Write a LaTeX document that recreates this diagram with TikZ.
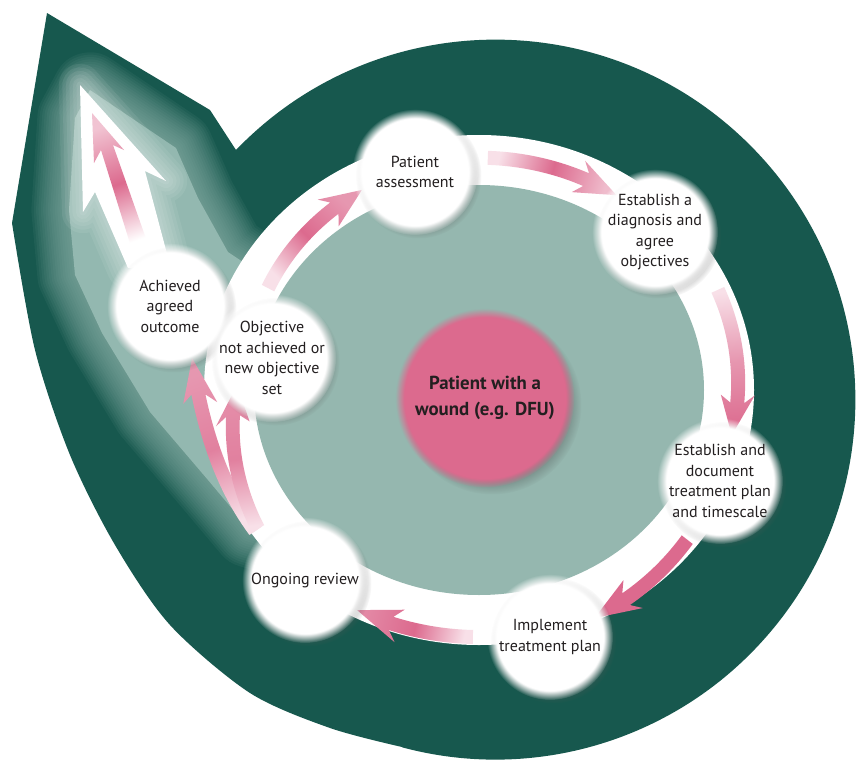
\documentclass[tikz,border=0pt]{standalone}
\usepackage{fontspec}
\setmainfont{PT Sans}
\usetikzlibrary{shadows,fadings}
\definecolor{dkgreen}{HTML}{17584E}
\definecolor{tealc}{HTML}{95B7AF}
\definecolor{glowc}{HTML}{93B8B0}
\definecolor{pinkc}{HTML}{DC6A8E}
\definecolor{palepink}{HTML}{F8E0E8}
\definecolor{txt}{HTML}{231F20}
\tikzset{
  declare function={RAK(\t)=\RAk+(\RAl-\RAk)*pow(max((\t-(\RAa))/((\RAz)-(\RAa)),0.0001),\RAe);},
  stepnode/.style={circle, minimum size=107pt, inner sep=0pt, align=center, text=txt,
    font=\fontsize{13.6}{17.4}\selectfont,
    general shadow={fill=black!65, opacity=.45, shadow xshift=3pt, shadow yshift=-3pt,
      path fading=circle with fuzzy edge 20 percent},
    preaction={fill=white, path fading=circle with fuzzy edge 15 percent}},
  coredisc/.style={circle, minimum size=152pt, inner sep=0pt, align=center, text=txt,
    font=\fontsize{16}{21.5}\selectfont\bfseries,
    general shadow={fill=black!75, opacity=.45, shadow xshift=6pt, shadow yshift=-6pt,
      path fading=circle with fuzzy edge 20 percent},
    preaction={fill=pinkc, path fading=circle with fuzzy edge 10 percent}},
  glowline/.style={line join=round}
}
\newcommand\ringarrow[6]{%
  \def\RAa{#1}\def\RAz{#2}\def\RAk{#3}\def\RAl{#4}\def\RAe{#5}%
  \pgfmathsetmacro\RAs{sign((#2)-(#1))}%
  \pgfmathsetmacro\RAn{(#2)-\RAs*7.9}%
  \pgfmathsetmacro\RAb{(#2)-\RAs*9.8}%
  \pgfmathsetmacro\RAkb{RAK(\RAb)}%
  \pgfmathsetmacro\RAtx{479+250*(#4)*cos(#2)}%
  \pgfmathsetmacro\RAty{390+230*(#4)*sin(#2)}%
  \pgfmathsetmacro\RAsx{479+250*(#3)*cos(#1)}%
  \pgfmathsetmacro\RAsy{390+230*(#3)*sin(#1)}%
  \pgfmathsetmacro\RAang{atan2(\RAsy-\RAty,\RAtx-\RAsx)+90}%
  \shade[#6, shading angle=\RAang]
    plot[domain=#1:\RAn, samples=24, variable=\u] ({479+(250*RAK(\u)+7)*cos(\u)},{390+(230*RAK(\u)+7)*sin(\u)})
    -- ({479+(250*\RAkb+17)*cos(\RAb)},{390+(230*\RAkb+17)*sin(\RAb)})
    -- (\RAtx,\RAty)
    -- ({479+(250*\RAkb-17)*cos(\RAb)},{390+(230*\RAkb-17)*sin(\RAb)})
    -- plot[domain=\RAn:#1, samples=24, variable=\u] ({479+(250*RAK(\u)-7)*cos(\u)},{390+(230*RAK(\u)-7)*sin(\u)})
    -- cycle;
}
\newcommand\greenshape{(47,13) -- (210,110) -- (236,150) arc[start angle=223.9, end angle=465, radius=360]
  -- plot[smooth] coordinates {(402,747) (330,728) (250,693) (170,625) (115,545) (70,455) (35,350) (12,223)} -- cycle}
\begin{document}
\begin{tikzpicture}[x=0.85pt, y=-0.85pt]
\fill[white] (0,0) rectangle (856,764);
\useasboundingbox (0,0) rectangle (856,764);

% dark green teardrop
\fill[dkgreen] (47,13) -- (210,110) -- (236,150) arc[start angle=223.9, end angle=465, radius=360]
  -- plot[smooth] coordinates {(402,747) (330,728) (250,693) (170,625) (115,545) (70,455) (35,350) (12,223)} -- cycle;

% light glow on the left
\begin{scope}
\clip (47,13) -- (210,110) -- (236,150) arc[start angle=223.9, end angle=465, radius=360]
  -- plot[smooth] coordinates {(402,747) (330,728) (250,693) (170,625) (115,545) (70,455) (35,350) (12,223)} -- cycle;
\foreach \w in {64,60,...,4}{
  \draw[glowc, opacity=.075, line width=\w pt, glowline]
    (90,90) -- (176,148) -- (198,198) -- (228,252) -- (300,300) -- (300,545) -- (250,530) -- (208,480)
    -- (150,412) -- (102,333) -- (75,275) -- (69,210) -- (75,118) -- cycle;}
\fill[glowc] (90,90) -- (176,148) -- (198,198) -- (228,252) -- (300,300) -- (300,545) -- (250,530) -- (208,480)
    -- (150,412) -- (102,333) -- (75,275) -- (69,210) -- (75,118) -- cycle;
\foreach \w in {36,30,...,6}{
  \draw[white, opacity=.07, line width=\w pt, glowline]
    (80,85) -- (166,181) -- (145,171) -- (170,265) -- (128,268) -- (95,192) -- (83,212) -- cycle;}
\end{scope}

% ring
\fill[white] (479,390) ellipse [x radius=275, y radius=255];
\fill[tealc] (479,390) ellipse [x radius=225, y radius=205];

% outgoing big arrow
\fill[white] (80,85) -- (166,181) -- (145,171) -- (170,265) -- (128,268) -- (95,192) -- (83,212) -- cycle;
\shade[left color=white, right color=pinkc!40!white, middle color=pinkc, shading angle=199.7]
  (92,113) -- (124,150) -- (113,145) -- (150,250) -- (133,253) -- (101,150) -- (94,163) -- cycle;

% ring arrows
\ringarrow{-88}{-57}{1.01}{1.01}{1}{left color=palepink, right color=pinkc!45!white, middle color=pinkc}
\ringarrow{-24.5}{11}{1.05}{1.03}{1}{left color=palepink, right color=pinkc, middle color=pinkc!70!white}
\ringarrow{38}{65}{1.057}{1.094}{1}{left color=pinkc, right color=pinkc, middle color=pinkc}
\ringarrow{91.3}{117}{1.074}{1.074}{1}{left color=palepink, right color=pinkc!80!white, middle color=pinkc}
\ringarrow{145.6}{186.9}{1.085}{1.156}{3}{left color=palepink, right color=pinkc!70!white, middle color=pinkc!85!white}
\ringarrow{145.6}{181.3}{1.07}{0.968}{1}{left color=palepink, right color=pinkc!75!white, middle color=pinkc!85!white}
\ringarrow{207.7}{241.7}{0.953}{0.988}{1}{left color=palepink, right color=pinkc!70!white, middle color=pinkc}

% centre
\node[coredisc] (core) at (485,398) {Patient with a\\wound (e.g. DFU)};

% steps
\node[stepnode] (ach) at (170,306) {Achieved\\agreed\\outcome};
\node[stepnode] (obj) at (272,358) {Objective\\not achieved or\\new objective\\set};
\node[stepnode] (pa)  at (415,172) {Patient\\assessment};
\node[stepnode] (dia) at (655,232) {Establish a\\diagnosis and\\agree\\objectives};
\node[stepnode] (doc) at (720,481) {Establish and\\document\\treatment plan\\and timescale};
\node[stepnode] (imp) at (550,637) {Implement\\treatment plan};
\node[stepnode] (ong) at (305,580) {Ongoing review};
\end{tikzpicture}
\end{document}
